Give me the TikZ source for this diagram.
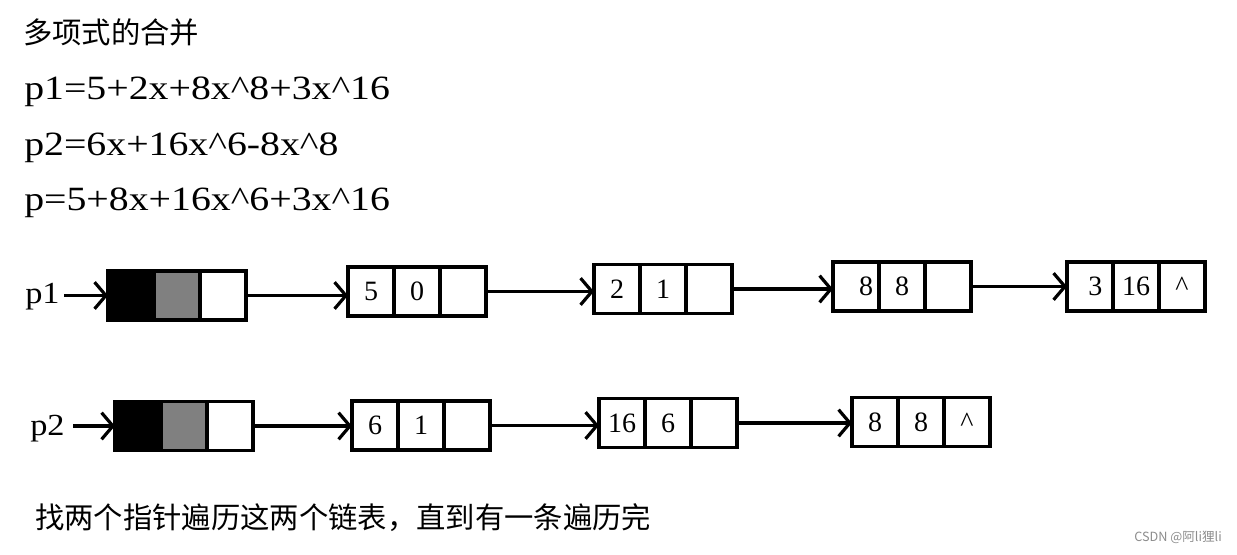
\documentclass[tikz,border=0pt]{standalone}
\usepackage{fontspec}
\setmainfont{Liberation Serif}
\newfontfamily\cjk{Noto Sans CJK SC}
\newfontfamily\formula[FakeStretch=1.17]{Liberation Serif}
\newfontfamily\lbl[FakeStretch=1.12]{Liberation Serif}
\usetikzlibrary{arrows.meta}
\tikzset{
  cell/.style={draw, line width=2.3pt, inner sep=0pt, outer sep=0pt,
    minimum width=34.5pt, minimum height=36.75pt,
    font=\fontsize{21pt}{24pt}\selectfont},
  headblack/.style={cell, fill=black},
  headgray/.style={cell, fill=gray},
  link/.style={line width=2.3pt, -{Straight Barb[length=8.5pt,width=20pt,line width=2.4pt]}},
  formulatext/.style={anchor=base west, inner sep=0pt, font=\formula\fontsize{25.5pt}{30pt}\selectfont},
  cjktext/.style={anchor=west, inner sep=0pt, font=\cjk\fontsize{22pt}{26pt}\selectfont},
  ptr/.style={anchor=base west, inner sep=0pt, font=\lbl\fontsize{23pt}{27pt}\selectfont}
}
\newcommand\lnode[6]{%
  \node[cell] (#1a) at ({#2+23},#3) {#4};
  \node[cell] (#1b) at ({#2+69},#3) {#5};
  \node[cell] (#1c) at ({#2+115},#3) {#6};}
\newcommand\hnode[3]{%
  \node[headblack] (#1a) at ({#2+23},#3) {};
  \node[headgray] (#1b) at ({#2+69},#3) {};
  \node[cell] (#1c) at ({#2+115},#3) {};}
\begin{document}
\begin{tikzpicture}[x=0.75pt,y=-0.75pt]
\useasboundingbox (0,0) rectangle (1237,555);
% texts
\node[cjktext] (title) at (23,32) {多项式的合并};
\node[formulatext] (f1) at (24,100) {p1=5+2x+8x\textasciicircum8+3x\textasciicircum16};
\node[formulatext] (f2) at (24,156) {p2=6x+16x\textasciicircum6-8x\textasciicircum8};
\node[formulatext] (f3) at (24,211) {p=5+8x+16x\textasciicircum6+3x\textasciicircum16};
\node[cjktext] (note) at (35,518) {找两个指针遍历这两个链表，直到有一条遍历完};
\node[anchor=east, inner sep=0pt, text=black!45, font=\cjk\fontsize{9.5pt}{12pt}\selectfont] (wm) at (1222,537) {CSDN @阿li狸li};
% row 1
\node[ptr] (p1) at (25,304) {p1};
\hnode{h1}{108}{295.5}
\lnode{m1}{348}{291.5}{5}{0}{}
\lnode{m2}{594}{289}{2}{1}{}
\lnode{m3}{833}{286.5}{\hspace*{15pt}8}{8}{}
\lnode{m4}{1067}{286.5}{\hspace*{8pt}3}{16}{\textasciicircum}
\coordinate (s1) at (64,295.5);
\draw[link] (s1) -- (h1a.west);
\draw[link] (h1c.east) -- (h1c.east -| m1a.west);
\draw[link] (m1c.east) -- (m1c.east -| m2a.west);
\draw[link] (m2c.east) -- (m2c.east -| m3a.west);
\draw[link] (m3c.east) -- (m3c.east -| m4a.west);
% row 2
\node[ptr] (p2) at (30,435) {p2};
\hnode{h2}{115}{426}
\lnode{n1}{352}{425.5}{6}{1}{}
\lnode{n2}{599}{423}{16}{6}{}
\lnode{n3}{852}{422}{8}{8}{\textasciicircum}
\coordinate (s2) at (73,426);
\draw[link] (s2) -- (h2a.west);
\draw[link] (h2c.east) -- (h2c.east -| n1a.west);
\draw[link] (n1c.east) -- (n1c.east -| n2a.west);
\draw[link] (n2c.east) -- (n2c.east -| n3a.west);
\end{tikzpicture}
\end{document}
